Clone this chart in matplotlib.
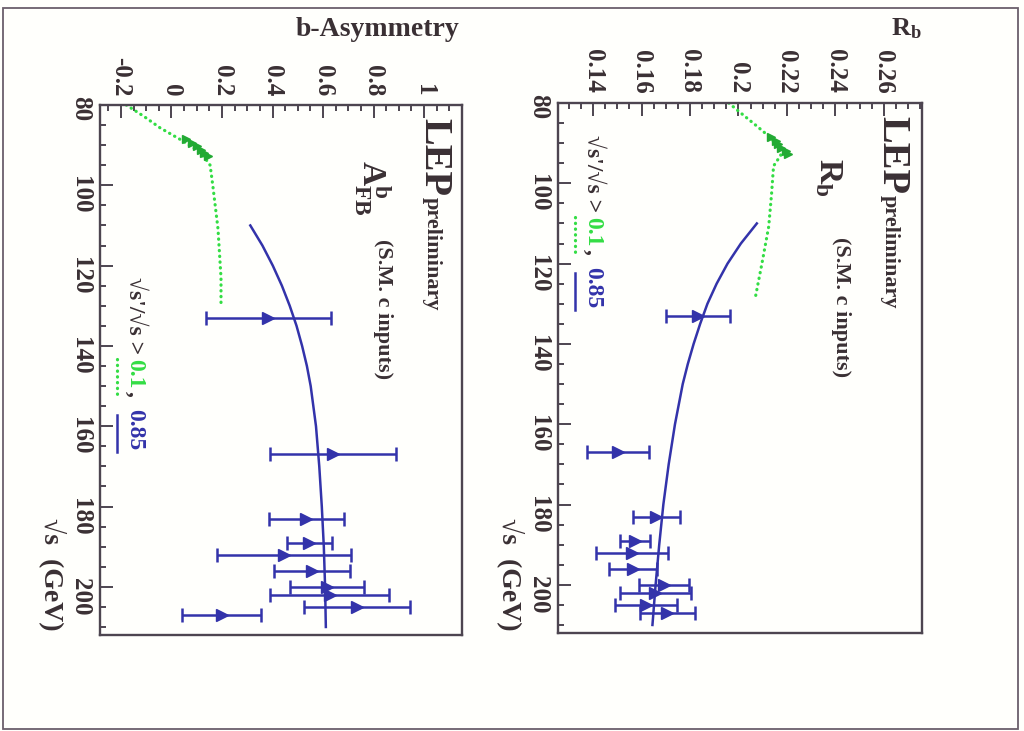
"""LEP preliminary: R_b and b-quark forward-backward asymmetry vs sqrt(s),
drawn rotated by 90 degrees as in the scanned figure."""

import matplotlib.pyplot as plt
from matplotlib.lines import Line2D
from matplotlib.patches import Rectangle
from matplotlib.ticker import FuncFormatter, MultipleLocator

plt.rcParams["font.family"] = ["Liberation Serif", "DejaVu Serif"]
plt.rcParams["font.weight"] = "bold"
plt.rcParams["axes.unicode_minus"] = False
plt.rcParams["mathtext.fontset"] = "custom"
plt.rcParams["mathtext.rm"] = "Liberation Serif:bold"
plt.rcParams["mathtext.bf"] = "Liberation Serif:bold"
plt.rcParams["mathtext.it"] = "Liberation Serif:bold"

# ---- data ----
SQRT_S = [133, 167, 183, 189, 192, 196, 200, 202, 205, 207]
RB = [0.1832, 0.1503, 0.1661, 0.1574, 0.1561, 0.1565, 0.1692, 0.1657, 0.1619, 0.1707]
RB_ERR = [0.0133, 0.0129, 0.0096, 0.0062, 0.0150, 0.0100, 0.0102, 0.0146, 0.0129, 0.0112]
AFB = [0.384, 0.640, 0.534, 0.545, 0.445, 0.555, 0.616, 0.626, 0.735, 0.198]
AFB_ERR = [0.247, 0.250, 0.148, 0.089, 0.264, 0.150, 0.148, 0.237, 0.211, 0.156]

# SM prediction, sqrt(s')/sqrt(s) > 0.85 (blue)
SM_E = [110, 115, 120, 125, 130, 135, 140, 145, 150, 160, 170, 180, 190, 200, 210]
RB_SM = [0.2076, 0.2010, 0.1955, 0.1910, 0.1872, 0.1842, 0.1815, 0.1791, 0.1770,
         0.1738, 0.1712, 0.1690, 0.1673, 0.1658, 0.1645]
AFB_SM = [0.312, 0.360, 0.401, 0.437, 0.468, 0.495, 0.517, 0.536, 0.551,
          0.572, 0.585, 0.595, 0.603, 0.608, 0.611]

# SM prediction, sqrt(s')/sqrt(s) > 0.1 (green)
RB_LOW_E = [80, 82.5, 85.7, 88.7, 91, 93, 95.7, 102.5, 110.8, 120, 129]
RB_LOW = [0.196, 0.201, 0.2075, 0.2134, 0.2165, 0.2175, 0.2145, 0.2137, 0.2125, 0.2097, 0.2068]
AFB_LOW_E = [80, 82.8, 85.7, 88.7, 91, 93, 95, 100.8, 110.8, 123, 130]
AFB_LOW = [-0.179, -0.11, -0.045, 0.038, 0.095, 0.13, 0.153, 0.165, 0.184, 0.196, 0.196]

# Z-pole measurements (dense green cluster)
Z_E = [88.5, 89.4, 90.2, 91.2, 92.0, 92.8]
RB_Z = [0.2135, 0.2155, 0.2165, 0.2175, 0.2195, 0.2205]
AFB_Z = [0.058, 0.080, 0.100, 0.115, 0.130, 0.145]

W, H = 1024, 731
BG = "#fffffc"
TEXT = "#3a3034"
FRAME = "#4d4550"
BLUE = "#3333aa"
GREEN = "#33dd44"
DGREEN = "#22aa33"
SERIF = ["Liberation Serif", "DejaVu Serif"]


def rect(l, t, r, b):
    return [l / W, 1 - b / H, (r - l) / W, (b - t) / H]


def rtext(fig, x, y, s, size, color=TEXT):
    # rotated (reads top to bottom); (x, y) = start of baseline, in pixels
    fig.text(x / W, 1 - y / H, s, rotation=-90, rotation_mode="anchor",
             ha="left", va="baseline", fontsize=size, color=color,
             family=SERIF, fontweight="bold")


def pline(fig, x, y0, y1, **kw):
    fig.add_artist(Line2D([x / W, x / W], [1 - y0 / H, 1 - y1 / H],
                          transform=fig.transFigure, **kw))


def style(ax, xlim, major, minor, pad):
    ax.set_facecolor(BG)
    ax.set_xlim(*xlim)
    ax.set_ylim(212, 80)
    ax.xaxis.set_major_locator(MultipleLocator(major))
    ax.xaxis.set_minor_locator(MultipleLocator(minor))
    ax.xaxis.set_major_formatter(FuncFormatter(lambda v, p: f"{v:g}"))
    ax.yaxis.set_major_locator(MultipleLocator(20))
    ax.yaxis.set_minor_locator(MultipleLocator(5))
    ax.tick_params(axis="x", which="both", top=True, bottom=False,
                   labeltop=True, labelbottom=False, direction="in",
                   labelrotation=-90, pad=pad)
    ax.tick_params(axis="y", which="both", left=True, right=False,
                   direction="in", labelrotation=-90, pad=6)
    ax.tick_params(which="major", length=9, width=1.4, colors=FRAME,
                   labelcolor=TEXT, labelsize=18)
    ax.tick_params(which="minor", length=4, width=1.4, colors=FRAME)
    for lab in ax.get_xticklabels() + ax.get_yticklabels():
        lab.set_fontweight("bold")
    for sp in ax.spines.values():
        sp.set_color(FRAME)
        sp.set_linewidth(1.7)


def dotted(ax, x, y):
    ax.plot(x, y, color=GREEN, lw=2.3, ls=(0, (0.1, 1.7)),
            dash_capstyle="round")


fig = plt.figure(figsize=(W / 100, H / 100), dpi=100)
fig.patch.set_facecolor(BG)
fig.add_artist(Rectangle((3 / W, 1 - 729 / H), 1015 / W, 721 / H,
                         transform=fig.transFigure, fill=False,
                         edgecolor="#6b5f6b", lw=1.3))

# ---- R_b panel ----
ax1 = fig.add_axes(rect(558, 103, 922, 633))
style(ax1, (0.1255, 0.2758), 0.02, 0.005, 7)
dotted(ax1, RB_LOW, RB_LOW_E)
ax1.plot(RB_Z, Z_E, ">", color=DGREEN, ms=6, mec=DGREEN)
ax1.plot(RB_SM, SM_E, color=BLUE, lw=1.8)
ax1.errorbar(RB, SQRT_S, xerr=RB_ERR, fmt=">", color=BLUE, ecolor=BLUE,
             ms=9, elinewidth=1.8, capsize=5, capthick=1.8)

# ---- b asymmetry panel ----
ax2 = fig.add_axes(rect(100, 105, 462, 635))
style(ax2, (-0.283, 1.15), 0.2, 0.05, 6)
dotted(ax2, AFB_LOW, AFB_LOW_E)
ax2.plot(AFB_Z, Z_E, ">", color=DGREEN, ms=6, mec=DGREEN)
ax2.plot(AFB_SM, SM_E, color=BLUE, lw=1.8)
ax2.errorbar(AFB, SQRT_S, xerr=AFB_ERR, fmt=">", color=BLUE, ecolor=BLUE,
             ms=9, elinewidth=1.8, capsize=5, capthick=1.8)

# ---- titles (horizontal) ----
fig.text(922 / W, 1 - 35 / H, r"$\mathbf{R_b}$", ha="right", va="baseline",
         fontsize=19, color=TEXT)
fig.text(459 / W, 1 - 36 / H, "b-Asymmetry", ha="right", va="baseline",
         fontsize=20, color=TEXT, family=SERIF, fontweight="bold")

# ---- rotated annotations ----
for x0, y0, label, cut_y in [(558, 103, r"$\mathbf{R_b}$", 135),
                             (100, 105, r"$\mathbf{A^{b}_{FB}}$", 277)]:
    rtext(fig, x0 + 324, y0 + 13, "LEP", 29)
    rtext(fig, x0 + 327, y0 + 92, "preliminary", 16)
    rtext(fig, x0 + 262, y0 + 55, label, 24)
    rtext(fig, x0 + 278, y0 + 134, "(S.M. c inputs)", 16)
    # sqrt(s')/sqrt(s) > 0.1 , 0.85
    rtext(fig, x0 + 29, cut_y, "\u221as'/\u221as >", 17)
    rtext(fig, x0 + 29, cut_y + 82, "0.1", 17, color=GREEN)
    rtext(fig, x0 + 29, cut_y + 114, ",", 17)
    rtext(fig, x0 + 29, cut_y + 132, "0.85", 17, color=BLUE)
    pline(fig, x0 + 17, cut_y + 82, cut_y + 118, color=GREEN, lw=2.3,
          ls=(0, (0.1, 1.7)), dash_capstyle="round")
    pline(fig, x0 + 17, cut_y + 138, cut_y + 175, color=BLUE, lw=1.8)
    rtext(fig, x0 - 55, 518, "\u221as  (GeV)", 20)

fig.savefig("out.png", dpi=100, facecolor=BG)
